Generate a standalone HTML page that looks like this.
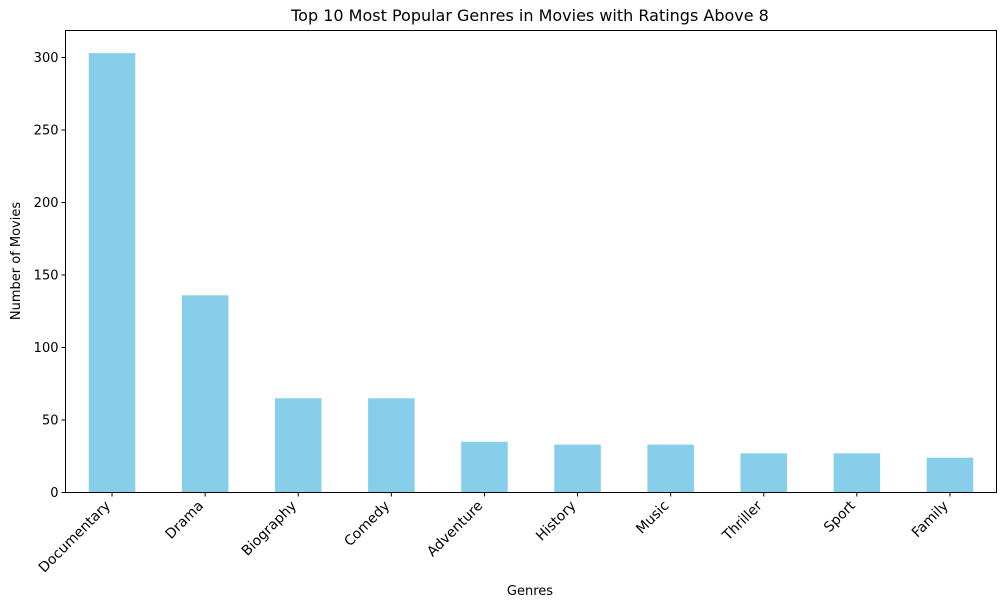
<!DOCTYPE html>
<html><head><meta charset="utf-8"><style>
body{margin:0;background:#fff;}
svg text{font-family:"DejaVu Sans","Liberation Sans",sans-serif;fill:#000;}
</style></head><body>
<svg id="chart" width="1005" height="608" xmlns="http://www.w3.org/2000/svg">
<text x="530" y="21" font-size="16" text-anchor="middle">Top 10 Most Popular Genres in Movies with Ratings Above 8</text>
<g id="bars"></g><g id="yaxis"></g><g id="xaxis"></g>
<rect x="65.5" y="30.5" width="931" height="462" fill="none" stroke="#000" stroke-width="1"/>
<text x="530" y="595" font-size="13" text-anchor="middle">Genres</text>
<text transform="translate(20,261) rotate(-90)" font-size="13" text-anchor="middle">Number of Movies</text>
</svg>
<script>
const categories=["Documentary","Drama","Biography","Comedy","Adventure","History","Music","Thriller","Sport","Family"];
const values=[303,136,65,65,35,33,33,27,27,24];
const yTicks=[0,50,100,150,200,250,300];
const NS="http://www.w3.org/2000/svg";
const L=65.5,R=996.5,T=30.5,B=492.5;
const y=v=>B-v*1.45;
const step=(R-L)/categories.length;
const x=i=>L+step*(i+0.5);
function mk(t,a,p){const e=document.createElementNS(NS,t);for(const k in a)e.setAttribute(k,a[k]);p.appendChild(e);return e;}
const gb=document.getElementById('bars'),gy=document.getElementById('yaxis'),gx=document.getElementById('xaxis');
values.forEach((v,i)=>{
 const r=mk('rect',{x:x(i)-step/4,y:y(v),width:step/2,height:B-y(v),fill:'#87ceeb'},gb);
 
 
 const tk=mk('line',{x1:x(i),x2:x(i),y1:B,y2:B+4,stroke:'#000'},gx);
 
 
 const t=mk('text',{'font-size':13.9,'text-anchor':'end',transform:`translate(${x(i)-1},${B+14}) rotate(-45)`},gx);
 t.textContent=categories[i];
 
 
});
yTicks.forEach(v=>{
 const tk=mk('line',{x1:L-4,x2:L,y1:y(v),y2:y(v),stroke:'#000'},gy);
 
 
 const t=mk('text',{x:L-7,y:y(v)+4.5,'font-size':13,'text-anchor':'end'},gy);
 t.textContent=v;
 
 
});
</script>
</body></html>
